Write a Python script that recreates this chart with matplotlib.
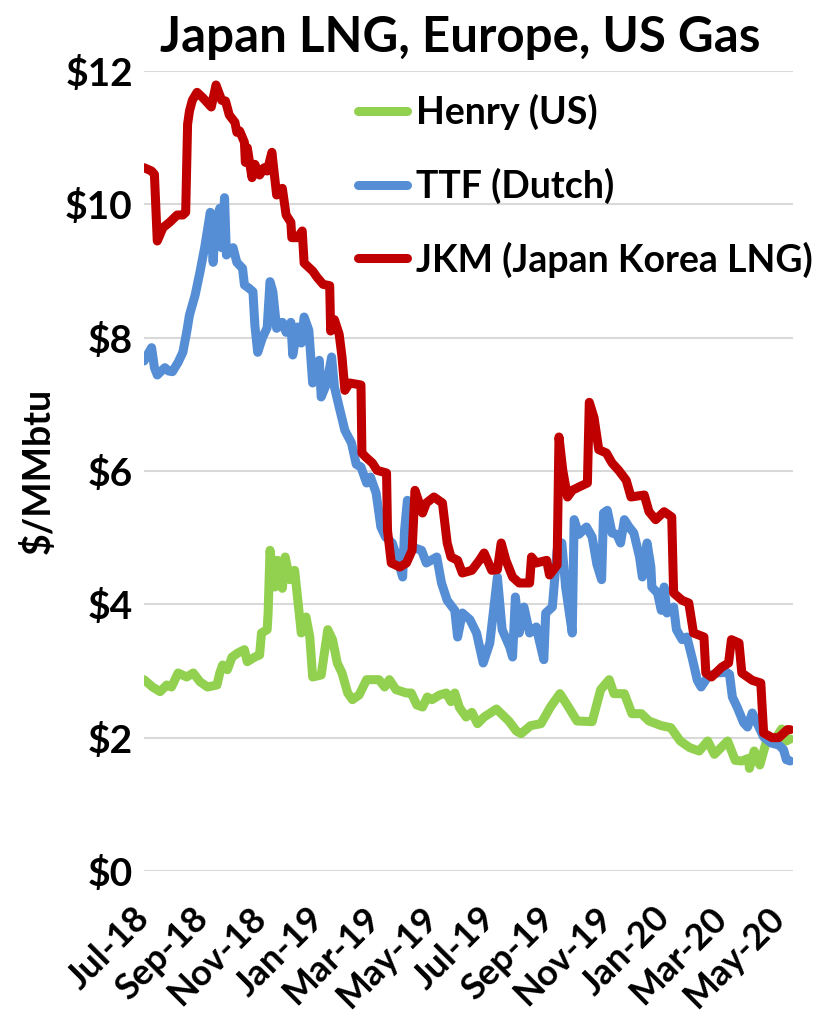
import matplotlib
matplotlib.use("Agg")
import matplotlib.pyplot as plt
import matplotlib.dates as mdates
import pandas as pd

# ---------------- data ----------------
jkm_dates = ["2018-07-01","2018-07-09","2018-07-12","2018-07-15","2018-07-21","2018-07-28","2018-08-05",
    "2018-08-11","2018-08-14","2018-08-16","2018-08-18","2018-08-21","2018-08-26","2018-09-01","2018-09-10",
    "2018-09-15","2018-09-21","2018-09-25","2018-09-29","2018-10-05","2018-10-07","2018-10-10","2018-10-15",
    "2018-10-16","2018-10-18","2018-10-23","2018-10-26","2018-10-31","2018-11-05","2018-11-08","2018-11-13",
    "2018-11-18","2018-11-24","2018-11-28","2018-12-03","2018-12-04","2018-12-10","2018-12-15","2018-12-17",
    "2018-12-26","2018-12-31","2019-01-06","2019-01-13","2019-01-14","2019-01-18","2019-01-23","2019-01-26",
    "2019-01-29","2019-02-03","2019-02-15","2019-02-16","2019-02-20","2019-02-27","2019-03-04","2019-03-14",
    "2019-03-15","2019-03-19","2019-03-28","2019-04-04","2019-04-10","2019-04-13","2019-04-21","2019-04-25",
    "2019-05-03","2019-05-12","2019-05-17","2019-05-21","2019-05-28","2019-06-02","2019-06-12","2019-06-20",
    "2019-06-25","2019-07-03","2019-07-09","2019-07-13","2019-07-18","2019-07-25","2019-08-01","2019-08-12",
    "2019-08-14","2019-08-19","2019-08-30","2019-09-02","2019-09-10","2019-09-12","2019-09-16","2019-09-21",
    "2019-09-26","2019-10-03","2019-10-12","2019-10-14","2019-10-19","2019-10-24","2019-11-01","2019-11-07",
    "2019-11-14","2019-11-22","2019-11-27","2019-12-11","2019-12-16","2019-12-23","2020-01-01","2020-01-09",
    "2020-01-11","2020-01-20","2020-01-27","2020-02-01","2020-02-12","2020-02-14","2020-02-20","2020-03-02",
    "2020-03-09","2020-03-12","2020-03-20","2020-03-23","2020-04-03","2020-04-12","2020-04-15","2020-04-24",
    "2020-05-01","2020-05-10","2020-05-13"]
jkm_values = [10.55,10.50,10.45,9.45,9.65,9.73,9.84,
    9.84,9.88,11.20,11.40,11.56,11.68,11.60,11.46,
    11.79,11.56,11.55,11.34,11.23,11.08,11.10,10.93,
    10.63,10.85,10.40,10.60,10.44,10.55,10.50,10.78,
    10.14,10.24,9.84,9.73,9.50,9.50,9.60,9.12,
    9.00,8.90,8.80,8.78,8.10,8.27,8.05,7.71,
    7.21,7.32,7.29,6.27,6.21,6.12,6.01,5.97,
    5.11,4.62,4.56,4.62,4.81,5.71,5.37,5.52,
    5.61,5.52,4.92,4.71,4.66,4.47,4.51,4.66,
    4.77,4.51,4.52,4.92,4.66,4.41,4.32,4.32,
    4.71,4.62,4.66,4.44,4.59,6.51,6.01,5.61,
    5.71,5.76,5.82,7.03,6.80,6.32,6.27,6.12,
    6.01,5.86,5.61,5.64,5.39,5.27,5.39,5.31,
    4.17,4.06,4.02,3.57,3.51,2.97,2.91,3.06,
    3.12,3.47,3.42,2.97,2.86,2.82,2.07,2.00,
    2.00,2.12,2.12]

ttf_dates = ["2018-07-01","2018-07-05","2018-07-09","2018-07-12","2018-07-15","2018-07-23","2018-07-27",
    "2018-07-31","2018-08-06","2018-08-11","2018-08-15","2018-08-18","2018-08-24","2018-08-29","2018-09-03",
    "2018-09-09","2018-09-12","2018-09-14","2018-09-19","2018-09-21","2018-09-24","2018-09-26","2018-10-03",
    "2018-10-07","2018-10-13","2018-10-15","2018-10-20","2018-10-24","2018-10-26","2018-10-29","2018-11-03",
    "2018-11-08","2018-11-11","2018-11-14","2018-11-18","2018-11-24","2018-11-28","2018-12-03","2018-12-05",
    "2018-12-10","2018-12-14","2018-12-17","2018-12-22","2018-12-26","2019-01-02","2019-01-04","2019-01-10",
    "2019-01-15","2019-01-18","2019-01-23","2019-01-29","2019-02-05","2019-02-10","2019-02-15","2019-02-21",
    "2019-02-25","2019-03-03","2019-03-08","2019-03-13","2019-03-20","2019-03-25","2019-03-31","2019-04-02",
    "2019-04-05","2019-04-10","2019-04-20","2019-04-25","2019-05-06","2019-05-11","2019-05-17","2019-05-25",
    "2019-05-28","2019-06-02","2019-06-10","2019-06-17","2019-06-24","2019-07-01","2019-07-09","2019-07-14",
    "2019-07-22","2019-07-25","2019-07-28","2019-08-01","2019-08-06","2019-08-12","2019-08-19","2019-08-22",
    "2019-08-27","2019-08-29","2019-09-05","2019-09-10","2019-09-15","2019-09-19","2019-09-23","2019-09-26",
    "2019-09-28","2019-10-03","2019-10-11","2019-10-17","2019-10-22","2019-10-27","2019-10-29","2019-11-02",
    "2019-11-07","2019-11-12","2019-11-16","2019-11-20","2019-11-25","2019-11-30","2019-12-06","2019-12-09",
    "2019-12-14","2019-12-18","2019-12-19","2019-12-25","2019-12-29","2020-01-01","2020-01-04","2020-01-11",
    "2020-01-14","2020-01-20","2020-01-25","2020-01-31","2020-02-05","2020-02-09","2020-02-16","2020-02-25",
    "2020-03-07","2020-03-10","2020-03-13","2020-03-18","2020-03-25","2020-03-29","2020-04-03","2020-04-08",
    "2020-04-15","2020-04-23","2020-05-01","2020-05-06","2020-05-09","2020-05-13"]
ttf_values = [7.65,7.75,7.85,7.55,7.44,7.55,7.50,
    7.49,7.63,7.78,8.08,8.34,8.64,8.98,9.35,
    9.88,9.13,9.69,9.94,9.35,10.10,9.24,9.35,
    9.13,9.04,8.79,8.74,8.69,8.19,7.78,8.00,
    8.15,8.84,8.69,8.14,8.23,8.08,8.23,7.74,
    8.16,7.92,8.31,8.11,7.32,7.66,7.11,7.32,
    7.71,7.26,6.96,6.61,6.42,6.10,6.06,5.82,
    5.91,5.67,5.16,5.01,4.92,4.71,4.41,5.11,
    5.56,4.86,4.81,4.62,4.71,4.32,4.06,3.91,
    3.51,3.87,3.77,3.57,3.12,3.42,4.41,3.62,
    3.36,3.21,4.11,3.57,3.96,3.57,3.66,3.47,
    3.17,3.87,3.96,4.81,4.92,4.26,3.87,3.57,
    5.27,5.05,5.16,5.01,4.60,4.37,5.37,5.41,
    5.07,5.05,4.92,5.27,5.16,5.07,4.71,4.41,
    4.92,4.56,4.26,4.17,3.91,4.26,3.87,3.96,
    3.62,3.47,3.51,3.17,2.86,2.76,2.91,2.97,
    2.98,2.95,2.61,2.46,2.22,2.16,2.37,2.22,
    2.01,1.92,1.89,1.82,1.67,1.65]

henry_dates = ["2018-07-01","2018-07-10","2018-07-18","2018-07-25","2018-07-30","2018-08-06","2018-08-15",
    "2018-08-22","2018-08-29","2018-09-06","2018-09-16","2018-09-19","2018-09-22","2018-09-27","2018-10-02",
    "2018-10-08","2018-10-15","2018-10-18","2018-10-26","2018-10-31","2018-11-02","2018-11-08","2018-11-09",
    "2018-11-11","2018-11-16","2018-11-19","2018-11-24","2018-11-27","2018-12-02","2018-12-07","2018-12-14",
    "2018-12-19","2018-12-23","2018-12-26","2019-01-04","2019-01-11","2019-01-16","2019-01-21","2019-01-26",
    "2019-02-01","2019-02-06","2019-02-13","2019-02-21","2019-03-06","2019-03-12","2019-03-17","2019-03-24",
    "2019-04-04","2019-04-09","2019-04-15","2019-04-21","2019-04-26","2019-05-01","2019-05-09","2019-05-16",
    "2019-05-21","2019-05-25","2019-05-30","2019-06-06","2019-06-12","2019-06-18","2019-06-25","2019-07-08",
    "2019-07-21","2019-07-29","2019-08-03","2019-08-13","2019-08-24","2019-09-03","2019-09-13","2019-09-22",
    "2019-10-01","2019-10-17","2019-10-26","2019-11-04","2019-11-09","2019-11-20","2019-11-28","2019-12-08",
    "2019-12-16","2019-12-29","2020-01-08","2020-01-18","2020-01-28","2020-02-07","2020-02-16","2020-02-23",
    "2020-03-08","2020-03-16","2020-03-23","2020-03-30","2020-03-31","2020-04-05","2020-04-11","2020-04-18",
    "2020-04-26","2020-05-04","2020-05-09","2020-05-13"]
henry_values = [2.87,2.76,2.69,2.79,2.76,2.97,2.91,
    2.97,2.84,2.76,2.79,2.97,3.09,3.02,3.21,
    3.27,3.32,3.14,3.21,3.24,3.57,3.62,3.87,
    4.81,4.26,4.66,4.24,4.71,4.37,4.51,3.57,
    3.81,3.51,2.91,2.94,3.62,3.47,3.12,2.97,
    2.67,2.57,2.64,2.87,2.87,2.76,2.87,2.72,
    2.67,2.67,2.49,2.46,2.61,2.57,2.64,2.67,
    2.54,2.67,2.45,2.31,2.38,2.21,2.31,2.43,
    2.25,2.10,2.06,2.18,2.21,2.46,2.66,2.46,
    2.25,2.24,2.72,2.87,2.66,2.66,2.36,2.36,
    2.25,2.18,2.15,1.95,1.85,1.80,1.95,1.75,
    1.95,1.66,1.65,1.69,1.54,1.80,1.59,1.95,
    1.95,2.13,1.95,1.98]

series_labels = ["Henry (US)", "TTF (Dutch)", "JKM (Japan Korea LNG)"]
series_colors = ["#92D050", "#558ED5", "#C00000"]
y_ticks = [0, 2, 4, 6, 8, 10, 12]

# ---------------- figure ----------------
FONT = ["Lato", "DejaVu Sans"]
plt.rcParams["font.family"] = FONT
plt.rcParams["font.weight"] = "bold"

fig = plt.figure(figsize=(8.25, 10.21), dpi=100)
ax = fig.add_axes([144/825, 1-871/1021, (793-144)/825, (871-71)/1021])

lw = 6.5
ax.plot(pd.to_datetime(henry_dates), henry_values, color=series_colors[0], lw=lw,
        solid_joinstyle="round", solid_capstyle="round", label=series_labels[0], zorder=3)
ax.plot(pd.to_datetime(ttf_dates), ttf_values, color=series_colors[1], lw=lw,
        solid_joinstyle="round", solid_capstyle="round", label=series_labels[1], zorder=4)
ax.plot(pd.to_datetime(jkm_dates), jkm_values, color=series_colors[2], lw=lw,
        solid_joinstyle="round", solid_capstyle="round", label=series_labels[2], zorder=5)

ax.set_xlim(pd.Timestamp("2018-07-01"), pd.Timestamp("2020-05-16"))
ax.set_ylim(0, 12)
ax.set_yticks(y_ticks)
ax.set_yticklabels([f"${v}" for v in y_ticks])
ax.yaxis.grid(True, color="#D9D9D9", lw=1.5)
ax.set_axisbelow(True)
for s in ax.spines.values():
    s.set_visible(False)
ax.tick_params(axis="both", length=0)
ax.tick_params(axis="y", labelsize=28, pad=8)
ax.tick_params(axis="x", labelsize=26, pad=30)

ax.xaxis.set_major_locator(mdates.MonthLocator(bymonth=[1, 3, 5, 7, 9, 11]))
ax.xaxis.set_major_formatter(mdates.DateFormatter("%b-%y"))
for lab in ax.get_xticklabels():
    lab.set_rotation(45)
    lab.set_ha("right")
    lab.set_va("center")
    lab.set_rotation_mode("anchor")
    lab.set_fontweight("bold")
for lab in ax.get_yticklabels():
    lab.set_fontweight("bold")

ax.set_ylabel("$/MMbtu", fontsize=27, fontweight="bold", labelpad=7)

fig.text(0.558, 0.963, "Japan LNG, Europe, US Gas", ha="center", va="center",
         fontsize=35.5, fontweight="bold")

leg = ax.legend(loc="upper left", bbox_to_anchor=(199/649, 0.99), frameon=False,
                fontsize=27, handlelength=1.3, handletextpad=0.25, labelspacing=1.0,
                borderaxespad=0)
for t in leg.get_texts():
    t.set_fontweight("bold")
for h in leg.get_lines():
    h.set_linewidth(6.5)

fig.savefig("out.png", dpi=100)
